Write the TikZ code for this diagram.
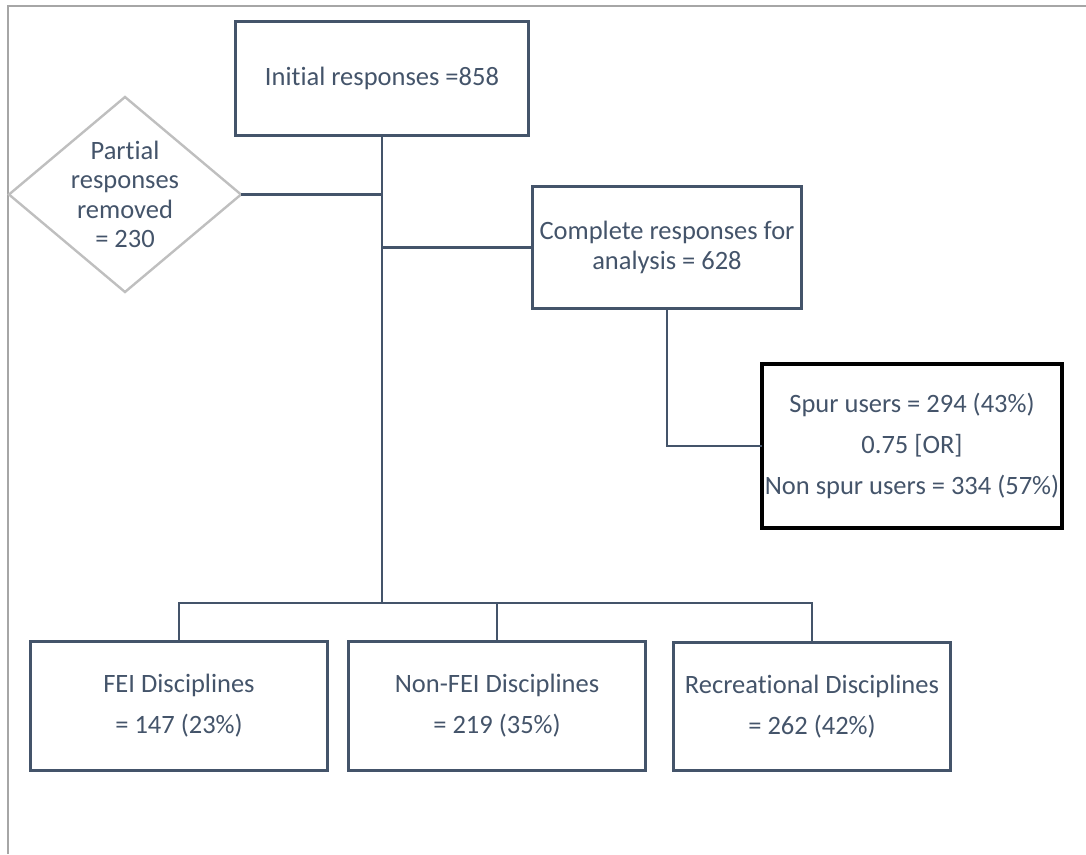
\documentclass[tikz,border=0pt]{standalone}
\usepackage{fontspec}
\setmainfont[Ligatures=NoCommon]{Carlito}
\usetikzlibrary{positioning, shapes.geometric}
\definecolor{slate}{HTML}{44546A}
\definecolor{framegray}{HTML}{A6A6A6}
\definecolor{diagray}{HTML}{BFBFBF}

\begin{document}
\begin{tikzpicture}[x=1pt, y=-1pt, rec/.style={draw=slate, line width=3.2pt, text=slate, inner sep=0pt, outer sep=0, align=center, font=\fontsize{26.5}{29.3}\selectfont}, wrec/.style={rec, font=\fontsize{26.5}{41}\selectfont}, dia/.style={diamond, draw=diagray, line width=2.4pt, inner sep=0pt, outer sep=0, minimum width=232pt, minimum height=195pt}, lin/.style={draw=slate, line width=2.2pt}]

          \useasboundingbox (0,0) rectangle (1086,854);
          \draw[framegray, line width=2pt] (8,854) -- (8,6) -- (1086,6);

          \node[rec, minimum width=293pt, minimum height=114pt] at (382,78.5) (init) {Initial responses =858};
          \node[dia] at (125,194.5) (partial) {};
          \node[rec, draw=none] at (partial.center) (partialtxt) {Partial\\responses\\removed\\= 230};
          \node[rec, minimum width=269pt, minimum height=122pt] at (667,247.5) (complete) {Complete responses for\\analysis = 628};
          \node[wrec, draw=black, line width=3.6pt, minimum width=300.5pt, minimum height=164.5pt] at (912,446) (spur) {Spur users = 294 (43\%)\\0.75 [OR]\\Non spur users = 334 (57\%)};

          \node[wrec, minimum width=297pt, minimum height=129pt] at (179,706) (fei) {FEI Disciplines\\= 147 (23\%)};
          \node[wrec, minimum width=297pt, minimum height=129pt, right of = fei, node distance=318pt](nonfei) {Non-FEI Disciplines\\= 219 (35\%)};
          \node[wrec, minimum width=277pt, minimum height=128pt, right of = nonfei, node distance=315pt, yshift=-0.5pt](recr) {Recreational Disciplines\\= 262 (42\%)};

          \coordinate (bus) at (382,603);
          \draw[lin](init.south) -- (bus);
          \draw[lin](partial.east) -- (init.south |- partial.east);
          \draw[lin](init.south |- complete.west) -- (complete.west);
          \draw[lin](complete.south) |- (spur.west);
          \draw[lin](fei.north) |- (bus) -| (recr.north);
          \draw[lin](nonfei.north) -- (nonfei.north |- bus);

      \end{tikzpicture}
\end{document}
